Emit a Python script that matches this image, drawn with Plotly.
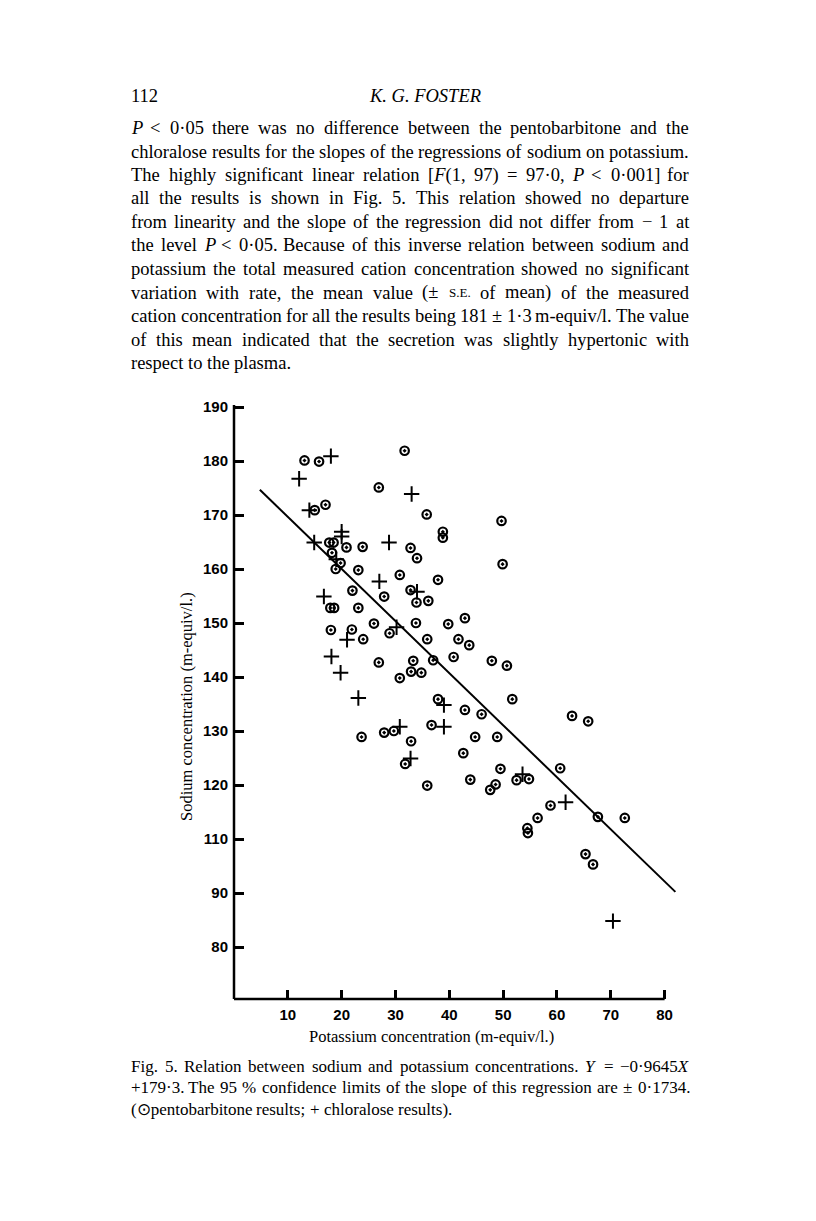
import re
import plotly.graph_objects as go

# ---------------- data ----------------
pento_k = [13.1, 15.8, 31.7, 26.9, 15.0, 17.0, 35.8, 17.7, 18.5, 20.9, 23.9, 32.8,
           18.2, 19.8, 34.0, 18.9, 23.1, 30.8, 22.0, 27.9, 32.8, 33.9, 17.9, 18.6,
           23.1, 26.0, 18.0, 21.9, 28.9, 33.8, 24.0, 26.9, 33.3, 30.8, 32.9, 34.8,
           49.7, 38.8, 38.8, 49.9, 37.9, 36.1, 39.8, 42.9, 35.9, 41.7, 43.7, 37.0,
           40.8, 47.9, 50.7, 37.9, 42.9, 46.0, 51.7, 27.9, 29.7, 36.7, 32.9, 44.8,
           48.9, 31.8, 42.6, 49.5, 35.9, 43.9, 47.6, 48.6, 23.7, 62.8, 65.8, 60.6,
           52.5, 54.8, 58.8, 56.4, 67.6, 72.6, 54.5, 54.6, 65.3, 66.7]
pento_na = [180.1, 179.9, 181.9, 175.1, 170.9, 171.9, 170.1, 164.9, 164.9, 164.0, 164.1, 163.9,
            163.0, 161.1, 162.0, 160.0, 159.8, 158.9, 156.0, 154.9, 156.1, 153.8, 152.8, 152.8,
            152.8, 149.9, 148.7, 148.8, 148.1, 150.0, 147.0, 142.7, 143.0, 139.8, 141.0, 140.8,
            168.9, 166.9, 165.8, 160.9, 158.0, 154.1, 149.8, 150.9, 147.0, 147.0, 145.9, 143.1,
            143.7, 143.0, 142.1, 135.9, 133.9, 133.1, 135.9, 129.7, 130.0, 131.1, 128.1, 128.9,
            128.9, 123.9, 125.9, 123.0, 119.9, 121.0, 119.1, 120.1, 128.9, 132.8, 131.8, 123.1,
            120.9, 121.1, 116.2, 113.9, 114.1, 113.9, 112.0, 111.1, 107.2, 105.3]

chlor_k = [18.0, 12.1, 33.0, 14.0, 20.0, 20.0, 14.9, 28.8, 19.0, 27.0, 34.0, 16.7,
           30.2, 21.0, 18.1, 19.8, 23.1, 39.0, 30.8, 39.0, 32.8, 53.6, 61.6, 70.4]
chlor_na = [180.9, 176.7, 173.9, 170.9, 166.9, 166.0, 164.9, 164.9, 161.8, 157.7, 155.8, 154.9,
            149.2, 146.9, 143.8, 140.8, 136.1, 134.8, 130.8, 130.8, 124.9, 122.0, 116.8, 94.8]

reg_slope = -0.9645
reg_intercept = 179.3
reg_k_ends = [4.8, 82.0]

x_tickvals = [10, 20, 30, 40, 50, 60, 70, 80]
x_ticktext = ["10", "20", "30", "40", "50", "60", "70", "80"]
y_tickvals = [190, 180, 170, 160, 150, 140, 130, 120, 110, 100, 90]
y_ticktext = ["190", "180", "170", "160", "150", "140", "130", "120", "110", "90", "80"]

x_title = "Potassium concentration (m-equiv/l.)"
y_title = "Sodium concentration (m-equiv/l.)"

page_number = "112"
running_head = "<i>K. G. FOSTER</i>"

SE_TOKEN = "{SE}"
SE_HTML = '<span style="font-size:13px">S.E.</span>'
body_lines = [
    "<i>P</i> < 0·05 there was no difference between the pentobarbitone and the",
    "chloralose results for the slopes of the regressions of sodium on potassium.",
    "The highly significant linear relation [<i>F</i>(1, 97) = 97·0, <i>P</i> < 0·001] for",
    "all the results is shown in Fig. 5. This relation showed no departure",
    "from linearity and the slope of the regression did not differ from − 1 at",
    "the level <i>P</i> < 0·05. Because of this inverse relation between sodium and",
    "potassium the total measured cation concentration showed no significant",
    "variation with rate, the mean value (± {SE} of mean) of the measured",
    "cation concentration for all the results being 181 ± 1·3 m-equiv/l. The value",
    "of this mean indicated that the secretion was slightly hypertonic with",
    "respect to the plasma.",
]
caption_lines = [
    "Fig. 5.  Relation between sodium and potassium concentrations. <i>Y</i> = −0·9645<i>X</i>",
    "+179·3. The 95 % confidence limits of the slope of this regression are ± 0·1734.",
    "(⊙pentobarbitone results; + chloralose results).",
]

# ---------------- geometry ----------------
BODY_MARGIN = 8            # default page margin of the html body
W, H = 816 - 2 * BODY_MARGIN, 1221 - 2 * BODY_MARGIN
# target (screen) positions of the plot area
PL, PR, PT, PB = 234, 677, 405, 999
ML, MT = PL - BODY_MARGIN, PT - BODY_MARGIN
MR, MB = W - (PR - BODY_MARGIN), H - (PB - BODY_MARGIN)
PW, PH = PR - PL, PB - PT
X_RANGE = [0, 82.3]
Y_RANGE = [80.37, 190.37]

def paper(px, py):
    return (px - PL) / PW, (PB - py) / PH

# Times / Liberation Serif advance widths (per 1000 em)
TW = dict(zip("abcdefghijklmnopqrstuvwxyz",
              [444, 500, 444, 500, 444, 333, 500, 500, 278, 278, 500, 278, 778, 500, 500,
               500, 500, 333, 389, 278, 500, 500, 722, 500, 500, 444]))
TW.update(dict(zip("ABCDEFGHIJKLMNOPQRSTUVWXYZ",
                   [722, 667, 667, 722, 611, 556, 722, 722, 333, 389, 722, 611, 889, 722, 722,
                    556, 722, 667, 556, 611, 722, 722, 944, 722, 722, 611])))
TW.update({c: 500 for c in "0123456789"})
TW.update({' ': 250, '.': 250, ',': 250, ';': 278, ':': 278, '(': 333, ')': 333, '[': 333,
           ']': 333, '/': 278, '-': 333, '=': 564, '<': 564, '+': 564, '±': 564, '−': 564,
           '·': 250, '%': 833, '⊙': 800})

def measure(word, size):
    m = re.search(r'font-size:(\d+)px', word)
    s = float(m.group(1)) if m else size
    plain = re.sub(r'<[^>]+>', '', word)
    return sum(TW.get(c, 500) for c in plain) * s / 1000.0

SERIF = "Liberation Serif"
annotations = []

def add_text(text, px, py, size, xanchor="left", angle=0, family=SERIF):
    xp, yp = paper(px, py)
    annotations.append(dict(text=text, x=xp, y=yp, xref="paper", yref="paper",
                            xanchor=xanchor, yanchor="middle", showarrow=False,
                            textangle=angle, borderpad=0,
                            font=dict(family=family, size=size, color="black")))

def add_justified(line, left, right, py, size, justify=True):
    words = [SE_HTML if w == SE_TOKEN else w for w in line.split()]
    widths = [measure(w, size) for w in words]
    if justify and len(words) > 1:
        gap = (right - left - sum(widths)) / (len(words) - 1)
    else:
        gap = TW[' '] * size / 1000.0
    x = left
    for w, wd in zip(words, widths):
        add_text(w, x, py, size)
        x += wd + gap

TEXT_L, TEXT_R = 130, 688
BODY_SIZE = 18.5
add_text(page_number, TEXT_L, 96, BODY_SIZE)
add_text(running_head, 425, 96, BODY_SIZE, xanchor="center")
for i, line in enumerate(body_lines):
    add_justified(line, TEXT_L, TEXT_R, 128 + 23.5 * i, BODY_SIZE,
                  justify=(i < len(body_lines) - 1))

CAP_SIZE = 17
for i, line in enumerate(caption_lines):
    add_justified(line, TEXT_L, TEXT_R, 1066 + 21.5 * i, CAP_SIZE,
                  justify=(i < len(caption_lines) - 1))

add_text(x_title, 431, 1036, 16.5, xanchor="center")
add_text(y_title, 186, 707, 16.5, xanchor="center", angle=-90)

# ---------------- figure ----------------
fig = go.Figure()
fig.add_trace(go.Scatter(
    x=reg_k_ends, y=[reg_intercept + reg_slope * k for k in reg_k_ends],
    mode="lines", line=dict(color="black", width=2), hoverinfo="skip", showlegend=False))
fig.add_trace(go.Scatter(
    x=pento_k, y=pento_na, mode="markers", name="pentobarbitone", showlegend=False,
    marker=dict(symbol="circle-open-dot", size=8.5, color="black",
                line=dict(color="black", width=2.2))))
fig.add_trace(go.Scatter(
    x=chlor_k, y=chlor_na, mode="markers", name="chloralose", showlegend=False,
    marker=dict(symbol="cross-thin-open", size=11, color="black", line=dict(color="black", width=2))))

tickfont = dict(family="Liberation Sans", size=15, color="black", weight="bold")
fig.update_xaxes(range=X_RANGE, showgrid=False, zeroline=False, showline=False,
                 ticks="inside", ticklen=9, tickwidth=2.5, tickcolor="black",
                 tickvals=x_tickvals, ticktext=x_ticktext, tickfont=tickfont,
                 ticklabelstandoff=5)
fig.update_yaxes(range=Y_RANGE, showgrid=False, zeroline=False, showline=False,
                 ticks="inside", ticklen=10, tickwidth=2.5, tickcolor="black",
                 tickvals=y_tickvals, ticktext=y_ticktext, tickfont=tickfont,
                 ticklabelstandoff=5)

x80 = (80 - X_RANGE[0]) / (X_RANGE[1] - X_RANGE[0])
fig.update_layout(
    width=W, height=H, autosize=False,
    margin=dict(l=ML, r=MR, t=MT, b=MB, pad=0),
    paper_bgcolor="white", plot_bgcolor="white",
    showlegend=False,
    annotations=annotations,
    shapes=[
        dict(type="line", xref="paper", yref="paper", x0=0, x1=0, y0=0, y1=1,
             line=dict(color="black", width=2.5)),
        dict(type="line", xref="paper", yref="paper", x0=0, x1=x80, y0=0, y1=0,
             line=dict(color="black", width=2.5)),
    ],
)

fig.write_html("out.html")
